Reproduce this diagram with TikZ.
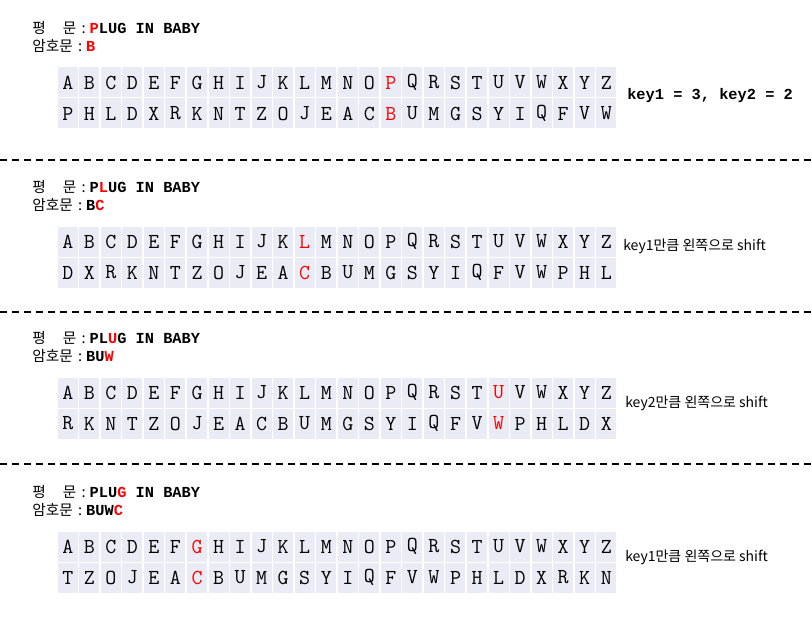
\documentclass[tikz,border=0pt]{standalone}
\usepackage{fontspec}
\usepackage{tikz}
\newfontfamily\kr{Noto Sans CJK KR}
\newfontfamily\codefont{Liberation Mono}
\definecolor{cellfill}{HTML}{E9EBF5}
\newcommand{\monobf}{\fontsize{11.5}{13}\selectfont\codefont\bfseries}
\newcommand{\hl}[1]{\textcolor{red}{#1}}
% #1 name, #2 y of header, #3 plaintext, #4 ciphertext, #5 cipher alphabet, #6 red column
\newcommand{\keypanel}[6]{%
 \node[hdr] (#1-plain) at (32,#2) {\makebox[3em][s]{평\hfill 문}\hspace{4pt}:\hspace{3pt}{\monobf #3}};
 \node[hdr] (#1-ciph) at (32,#2+18) {암호문\hspace{4pt}:\hspace{3pt}{\monobf #4}};
 \foreach \l [count=\i from 0] in {A,...,Z}
  \node[cell] (#1-t\i) at (67.77+21.54*\i,#2+54.5) {\ifnum\i=#6\color{red}\fi\l};
 \foreach \l [count=\i from 0] in {#5}
  \node[cell] (#1-b\i) at (67.77+21.54*\i,#2+85.5) {\ifnum\i=#6\color{red}\fi\l};
}

\begin{document}
\begin{tikzpicture}[x=0.75pt,y=-0.75pt,
 cell/.style={fill=cellfill,inner sep=0,minimum width=15pt,minimum height=22.5pt,font=\fontsize{16}{16}\selectfont\ttfamily},
 hdr/.style={anchor=west,inner sep=0,font=\kr\fontsize{11}{13}\selectfont},
 note/.style={anchor=west,inner sep=0,font=\kr\fontsize{10.5}{12}\selectfont},
 sep/.style={line width=1.5pt,dash pattern=on 5.6pt off 3.4pt}]
 \useasboundingbox (0,0) rectangle (812,631);
 \keypanel{one}{28}{\hl{P}LUG IN BABY}{\hl{B}}{P,H,L,D,X,R,K,N,T,Z,O,J,E,A,C,B,U,M,G,S,Y,I,Q,F,V,W}{15}
 \keypanel{two}{187}{P\hl{L}UG IN BABY}{B\hl{C}}{D,X,R,K,N,T,Z,O,J,E,A,C,B,U,M,G,S,Y,I,Q,F,V,W,P,H,L}{11}
 \keypanel{three}{338}{PL\hl{U}G IN BABY}{BU\hl{W}}{R,K,N,T,Z,O,J,E,A,C,B,U,M,G,S,Y,I,Q,F,V,W,P,H,L,D,X}{20}
 \keypanel{four}{492}{PLU\hl{G} IN BABY}{BUW\hl{C}}{T,Z,O,J,E,A,C,B,U,M,G,S,Y,I,Q,F,V,W,P,H,L,D,X,R,K,N}{6}
 \node[note] (one-key) at (627,96) {\monobf key1 = 3, key2 = 2};
 \node[note] (two-key) at (623,246) {key1만큼 왼쪽으로 shift};
 \node[note] (three-key) at (625,403) {key2만큼 왼쪽으로 shift};
 \node[note] (four-key) at (625,557) {key1만큼 왼쪽으로 shift};
 % separators
 \draw[sep] (0,160) -- (812,160);
 \draw[sep] (0,312) -- (812,312);
 \draw[sep] (0,464) -- (812,464);
\end{tikzpicture}
\end{document}
